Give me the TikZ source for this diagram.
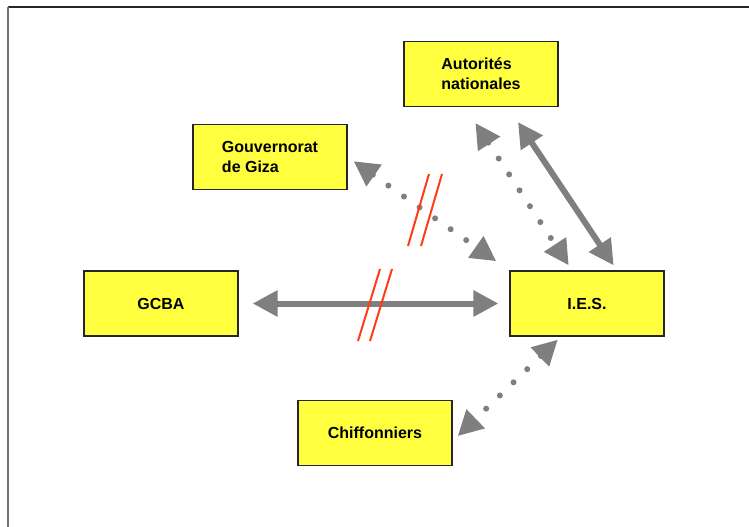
\documentclass[tikz,border=0pt]{standalone}
\usepackage{fontspec}
\setmainfont{Liberation Sans}
\usepackage{tikz}
\usepackage{xcolor}
\usetikzlibrary{calc,arrows.meta}
\definecolor{boxyellow}{HTML}{FFFF40}
\definecolor{linkgray}{HTML}{7F7F7F}
\definecolor{cutred}{HTML}{FF3C14}
\tikzset{>={Triangle[length=18.75pt,width=18.75pt]}}
\tikzstyle{actorbox} =[
    draw=black!85,
    fill=boxyellow,
    line width=0.9pt,
    rectangle,
    minimum width=115.5pt,
    minimum height=48.75pt,
    align=left,
    font=\fontsize{12}{15}\selectfont\bfseries
    ]
\tikzstyle{link} = [
    draw=linkgray,
    line width=4.5pt,
    <->
    ]
\tikzstyle{dotlink} = [
    link,
    line cap=round,
    dash pattern=on 0pt off 14.25pt
    ]
\tikzstyle{cutmark} = [
    draw=cutred,
    line width=1.5pt
    ]

\begin{document}
\begin{tikzpicture}[x=0.75pt,y=-0.75pt]
\useasboundingbox (0,0) rectangle (749,527);
\draw[black!85, line width=1pt] (8,7) -- (749,7);
\draw[black!55, line width=1.1pt] (8,7) -- (8,527);

\node[actorbox] (aut) at (481,74) {Autorités\\nationales};
\node[actorbox] (gouv) at (270,157) {Gouvernorat\\de Giza};
\node[actorbox] (gcba) at (161,303.5) {GCBA};
\node[actorbox] (ies) at (587,303.5) {I.E.S.};
\node[actorbox] (chif) at (375,433) {Chiffonniers};

\draw[link, shorten <=10.5pt, shorten >=8.25pt] (gcba.east) -- (ies.west);
\draw[link, shorten <=13.5pt, shorten >=4.5pt] ($(aut.south)+(27,0)$) -- ($(ies.north)+(30,0)$);
\draw[dotlink, shorten <=14.25pt, shorten >=4.5pt] ($(aut.south)+(-16,0)$) -- ($(ies.north)+(-15,0)$);
\draw[dotlink, shorten <=5.5pt, shorten >=12pt] (gouv.east) -- (ies.north west);
\draw[dotlink, shorten <=3.3pt, shorten >=5.3pt] ($(ies.south)+(-26,0)$) -- ($(chif.east)+(0,8)$);

\draw[cutmark] (429,174) -- (408,246);
\draw[cutmark] (442,174) -- (421,246);
\draw[cutmark] (380,269) -- (358,341);
\draw[cutmark] (392,269) -- (370,341);
\end{tikzpicture}
\end{document}
